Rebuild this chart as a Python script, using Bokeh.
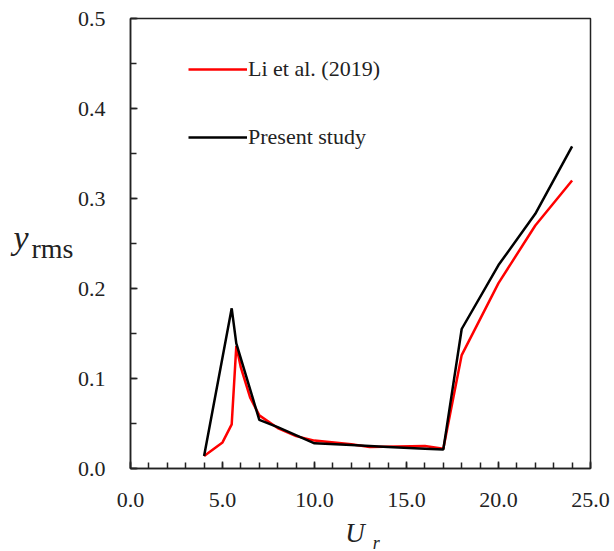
from bokeh.plotting import figure
from bokeh.models import (Range1d, SingleIntervalTicker, PrintfTickFormatter,
                          Legend, LegendItem, LinearAxis, FixedTicker)
from bokeh.embed import file_html
from bokeh.resources import INLINE

# Data
li_x = [4, 5, 5.5, 5.75, 6, 6.5, 7, 8, 9, 10, 12, 13, 16, 17, 18, 20, 22, 24]
li_y = [0.014, 0.029, 0.049, 0.136, 0.112, 0.079, 0.059, 0.045, 0.036, 0.031,
        0.027, 0.024, 0.025, 0.022, 0.126, 0.206, 0.270, 0.320]
present_x = [4, 5.5, 5.75, 7, 8, 10, 12, 14, 16, 17, 18, 20, 22, 24]
present_y = [0.014, 0.178, 0.139, 0.054, 0.046, 0.028, 0.026, 0.024, 0.022,
             0.021, 0.155, 0.226, 0.283, 0.358]
legend_labels = ["Li et al. (2019)", "Present study"]
x_title, x_sub = "U", "r"
y_title, y_sub = "y", "rms"

FONT = "Liberation Serif"
INK = "#222222"

p = figure(frame_width=460, frame_height=450, output_backend="svg",
           toolbar_location=None,
           x_range=Range1d(0, 25), y_range=Range1d(0, 0.5),
           min_border_left=130, min_border_right=24, min_border_top=18,
           min_border_bottom=83)
p.background_fill_color = "white"
p.border_fill_color = "white"
p.grid.visible = False
p.outline_line_color = INK
p.outline_line_width = 1.5

r1 = p.line(li_x, li_y, line_color="#ff0000", line_width=2.5)
r2 = p.line(present_x, present_y, line_color="black", line_width=2.5)

p.xaxis.ticker = SingleIntervalTicker(interval=5, num_minor_ticks=5)
p.yaxis.ticker = SingleIntervalTicker(interval=0.1, num_minor_ticks=2)
p.xaxis.formatter = PrintfTickFormatter(format="%.1f")
p.yaxis.formatter = PrintfTickFormatter(format="%.1f")
for ax in (p.xaxis[0], p.yaxis[0]):
    ax.axis_line_color = INK
    ax.axis_line_width = 1.5
    ax.major_tick_in = 7
    ax.major_tick_out = 0
    ax.minor_tick_in = 6
    ax.minor_tick_out = 0
    ax.major_tick_line_color = INK
    ax.minor_tick_line_color = INK
    ax.major_tick_line_width = 1.5
    ax.minor_tick_line_width = 1.5
    ax.major_label_text_font = FONT
    ax.major_label_text_font_size = "22px"
    ax.major_label_text_color = INK
p.xaxis.major_label_standoff = 24
p.yaxis.major_label_standoff = 25


def bare_axis(pos, text, size, style, standoff):
    return LinearAxis(ticker=FixedTicker(ticks=[pos]),
                      major_label_overrides={pos: text},
                      axis_line_color=None, major_tick_line_color=None,
                      minor_tick_line_color=None, major_tick_in=0,
                      major_tick_out=0, minor_tick_in=0, minor_tick_out=0,
                      major_label_standoff=standoff,
                      major_label_text_font=FONT,
                      major_label_text_font_size=size,
                      major_label_text_font_style=style,
                      major_label_text_color=INK)


# x title U_r: letter and subscript placed under the axis
p.add_layout(bare_axis(12.2, x_title, "27px", "italic", 8), "below")
p.add_layout(bare_axis(13.35, x_sub, "18px", "italic", -18), "below")
# y title y_rms: "rms" next to the tick labels, "y" further left
p.add_layout(bare_axis(0.245, y_sub, "28px", "normal", 1), "left")
p.add_layout(bare_axis(0.257, y_title, "34px", "italic", 0), "left")

legend = Legend(items=[LegendItem(label=legend_labels[0], renderers=[r1]),
                       LegendItem(label=legend_labels[1], renderers=[r2])],
                location=(58, 318), padding=0, margin=0, spacing=42,
                glyph_width=59, glyph_height=20, label_height=20,
                label_standoff=1, background_fill_alpha=0,
                border_line_alpha=0, label_text_font=FONT,
                label_text_font_size="22px", label_text_color=INK)
p.add_layout(legend)

open("out.html", "w").write(file_html(p, INLINE))
